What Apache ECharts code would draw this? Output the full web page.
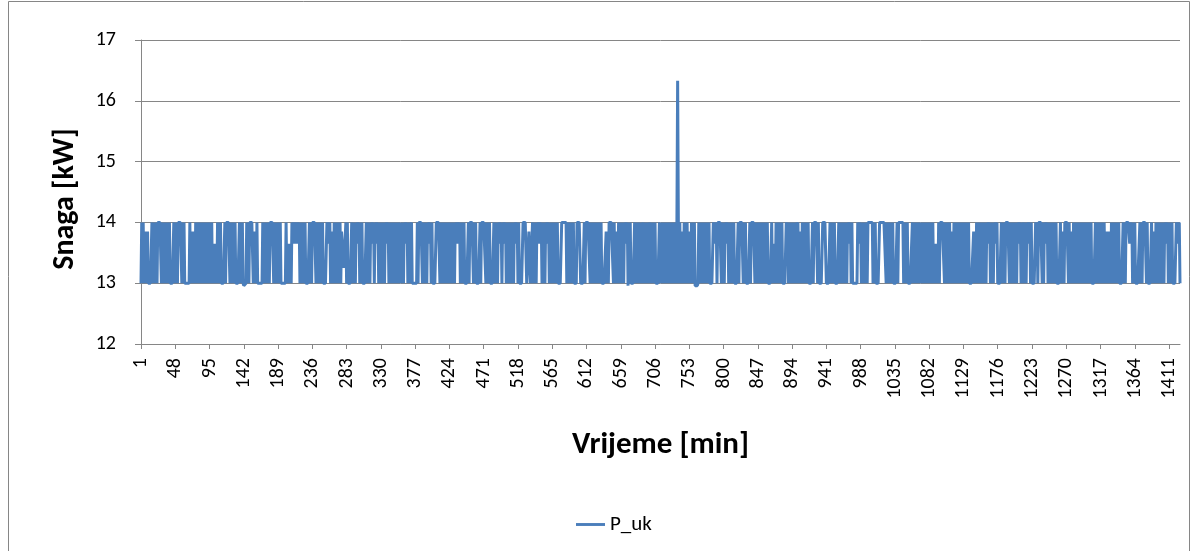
<!DOCTYPE html>
<html>
<head>
<meta charset="utf-8">
<title>P_uk</title>
<script src="https://cdn.jsdelivr.net/npm/echarts@6/dist/echarts.min.js"></script>
<style>
  html, body { margin: 0; padding: 0; background: #fff; }
  #chart { width: 1198px; height: 551px; }
</style>
</head>
<body>
<div id="chart"></div>
<script>
// Ukupna snaga po minuti, ocitano sa slike.
// Svako slovo je jedna minuta: a = 13, b = 14, ostalo su rijetke medjuvrijednosti.
const levelKw = { a: 13, b: 14, c: 13.85, d: 13.65, e: 13.25, f: 16.33, g: 12.96 }

const minuteTrace = [
  'ababacacac' + 'aaaaababab' + 'ababbbbbab' + 'ababababab' + 'aaaaababab' + 'abbbbbabab' + 'aaaaaaabac' + 'acacababab' + 'ababababab' + 'ababababad',
  'adadababab' + 'aaaaababbb' + 'bbabababab' + 'aaaaababab' + 'agggababab' + 'bbbbacacab' + 'aaaaaaabab' + 'ababababbb' + 'bbabacabab' + 'abaaaaaaab',
  'adadadabdb' + 'dbdbdbdbab' + 'abababaaaa' + 'abababbbbb' + 'ababababab' + 'aaaaabdbdb' + 'acacababab' + 'ababacccee' + 'ebabaaaaab' + 'abababdbdb',
  'ababaaaaab' + 'abacabdbdb' + 'abdbdbabab' + 'abababdbdb' + 'ababababab' + 'ababababab' + 'abdbdbabab' + 'dbaaaaaaab' + 'abbbbbabab' + 'ababdbdbab',
  'aaaaabbbbb' + 'ababababab' + 'ababababab' + 'abdbdbdbab' + 'ababaaaaab' + 'abbbbbabab' + 'aaaaababbb' + 'bbbabababa' + 'aaaabababa' + 'bdbdbabdbd',
  'bababababa' + 'babdbdbaba' + 'aaaabbbbba' + 'aaccaaabab' + 'ababdbdbdb' + 'abababdbdb' + 'ababababab' + 'abaaaaabbb' + 'bbbbababab' + 'ababaaaabb',
  'bbbaaaaaba' + 'bbbbbbabab' + 'ababababab' + 'abaaaaaaca' + 'cabbbbbbab' + 'acacababab' + 'ababdbdbgb' + 'abaaaaabab' + 'abababaaab' + 'ababababbb',
  'abababaaaa' + 'ababababab' + 'ababababab' + 'abababfbab' + 'acacababab' + 'acacababab' + 'ggggababab' + 'ababababab' + 'aaaaabdbdb' + 'abbbbbabab',
  'abdbdbabab' + 'ababaaaaab' + 'abbbbbabab' + 'aaaaababbb' + 'bbabababab' + 'ababababab' + 'aaaaabadad' + 'ababababab' + 'aaaaabdbab' + 'ababababab',
  'dbacacabac' + 'abababaaaa' + 'ababbbbbab' + 'aaaaabbbbb' + 'aaaaababab' + 'abaaaaabab' + 'ababababab' + 'dbdbabaaaa' + 'aaabdbdbab' + 'ababababbb',
  'bbbbababaa' + 'aaabbbbbbb' + 'bbabababab' + 'abaaaaabab' + 'bbbbbbabab' + 'abaaaaaaba' + 'bababababa' + 'bababababa' + 'babababada' + 'dadababbbb',
  'bbabababab' + 'acacabacab' + 'ababababab' + 'abababaaaa' + 'aacacababa' + 'bababababa' + 'bdbdbababa' + 'bdbdbaaaaa' + 'babababbbb' + 'bababababa',
  'babdbdbaba' + 'dbacabdbdb' + 'abaaaaabdb' + 'abbbbbabab' + 'dbdbababab' + 'abababaaaa' + 'abacacabbb' + 'bbabacacab' + 'ababababab' + 'ababababab',
  'ababaaaaab' + 'ababababab' + 'abacacacac' + 'ababababab' + 'abaaaaabab' + 'abbbbbdbdb' + 'ababaaaaaa' + 'bababbbbba' + 'baaaaabaca' + 'cababababa',
  'bababdbdba' + 'bababaaaaa' + 'bdbdba'
]

const seriesName = 'P_uk'
const xTitle = 'Vrijeme [min]'
const yTitle = 'Snaga [kW]'
const yMin = 12
const yMax = 17
const labelEvery = 47 // Excel prikazuje svaku 47. minutu: 1, 48, 95 ...

const powerKw = minuteTrace.join('').split('').map(ch => levelKw[ch])
const minutes = powerKw.map((_, i) => String(i + 1))

const font = 'Carlito, Calibri, Lato, sans-serif'
const gridGray = '#868686'

const myChart = echarts.init(document.getElementById('chart'))

const option = {
  animation: false,
  backgroundColor: '#ffffff',
  textStyle: { fontFamily: font, color: '#000' },
  graphic: [
    {
      type: 'rect',
      shape: { x: 8.5, y: 1.5, width: 1181, height: 570 },
      style: { fill: 'none', stroke: gridGray, lineWidth: 1 },
      silent: true
    }
  ],
  grid: { left: 141, right: 18, top: 40, bottom: 207 },
  legend: {
    data: [seriesName],
    left: 571,
    top: 509,
    icon: 'path://M0,0 L10,0 L10,1 L0,1 Z',
    itemWidth: 29,
    itemHeight: 3,
    textStyle: { fontFamily: font, fontSize: 21, color: '#000' }
  },
  xAxis: {
    type: 'category',
    boundaryGap: false,
    data: minutes,
    name: xTitle,
    nameLocation: 'middle',
    nameGap: 86,
    nameTextStyle: { fontFamily: font, fontSize: 31, fontWeight: 'bold', color: '#000' },
    axisLine: { lineStyle: { color: gridGray, width: 1 } },
    axisTick: { show: true, interval: labelEvery - 1, length: 5, lineStyle: { color: gridGray } },
    axisLabel: {
      interval: labelEvery - 1,
      rotate: 90,
      fontFamily: font,
      fontSize: 20,
      color: '#000',
      margin: 14
    },
    splitLine: { show: false }
  },
  yAxis: {
    type: 'value',
    min: yMin,
    max: yMax,
    interval: 1,
    name: yTitle,
    nameLocation: 'middle',
    nameGap: 61,
    nameTextStyle: { fontFamily: font, fontSize: 30, fontWeight: 'bold', color: '#000', padding: [0, 14, 0, 0] },
    axisLine: { show: true, lineStyle: { color: gridGray, width: 1 } },
    axisTick: { show: true, length: 6, lineStyle: { color: gridGray } },
    axisLabel: { fontFamily: font, fontSize: 20, color: '#000', margin: 25 },
    splitLine: { lineStyle: { color: gridGray, width: 1 } }
  },
  series: [
    {
      name: seriesName,
      type: 'line',
      data: powerKw,
      showSymbol: false,
      symbol: 'none',
      lineStyle: { color: '#4a7ebb', width: 3 },
      itemStyle: { color: '#4a7ebb' }
    }
  ]
}

myChart.setOption(option)
</script>
</body>
</html>
